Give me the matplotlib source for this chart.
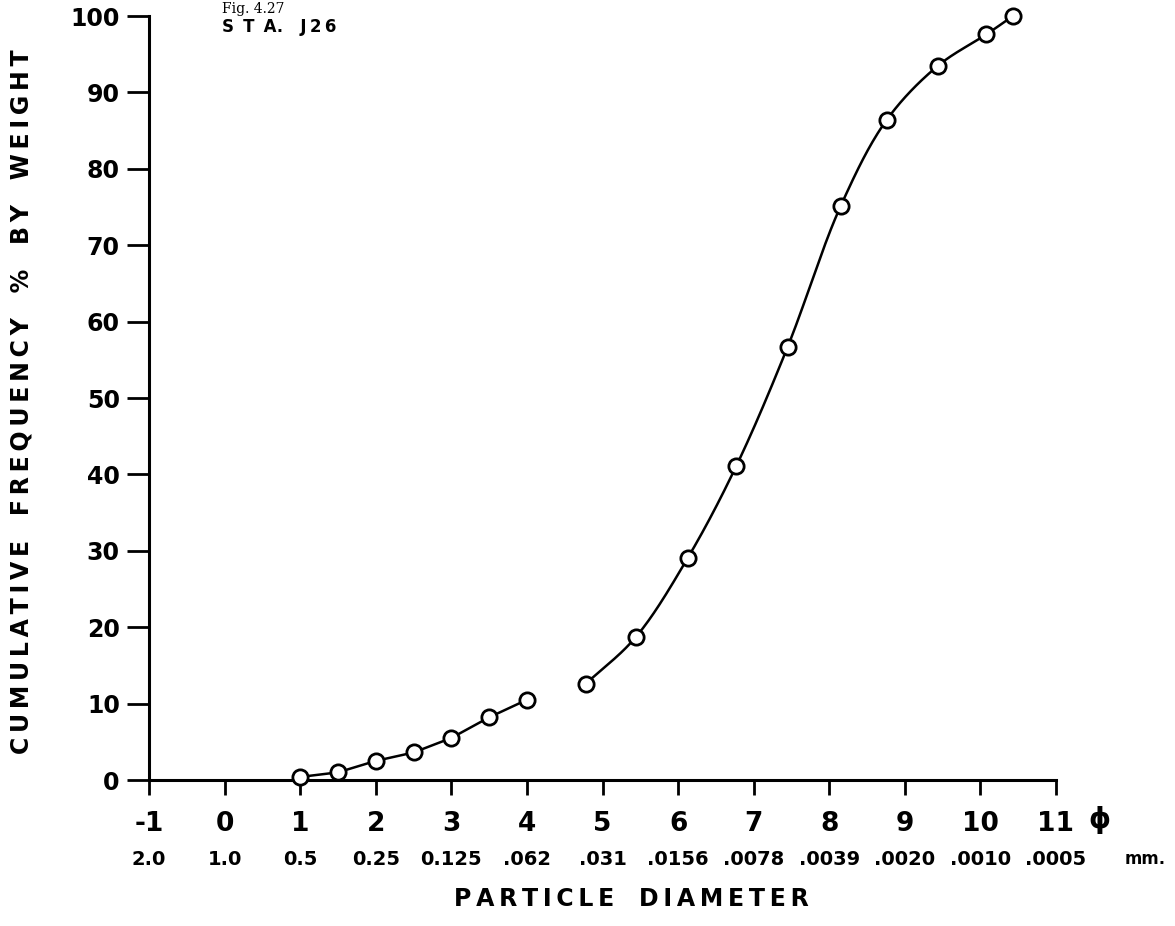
import numpy as np
import matplotlib.pyplot as plt

# sieve fractions (straight segments) and pipette fractions (smooth curve)
phi_sieve = [1.0, 1.5, 2.0, 2.5, 3.0, 3.5, 4.0]
pct_sieve = [0.4, 1.0, 2.5, 3.6, 5.5, 8.2, 10.5]
phi_pipette = [4.78, 5.44, 6.13, 6.77, 7.45, 8.15, 8.76, 9.44, 10.08, 10.43]
pct_pipette = [12.6, 18.7, 29.1, 41.1, 56.7, 75.1, 86.4, 93.5, 97.6, 100.0]

phi_ticks = list(range(-1, 12))
phi_labels = ["-1", "0", "1", "2", "3", "4", "5", "6", "7", "8", "9", "10", "11"]
mm_labels = ["2.0", "1.0", "0.5", "0.25", "0.125", ".062", ".031", ".0156",
             ".0078", ".0039", ".0020", ".0010", ".0005"]
y_ticks = list(range(0, 101, 10))

W, H = 1175, 926
FONT = "DejaVu Sans"
THIN = "\u2009"


def smooth(x, y, n=40):
    # centripetal Catmull-Rom through the points (y scaled to ~isotropic)
    p = np.column_stack([x, np.asarray(y) / 10.0])
    p = np.vstack([2 * p[0] - p[1], p, 2 * p[-1] - p[-2]])
    out = []
    for i in range(1, len(p) - 2):
        p0, p1, p2, p3 = p[i - 1:i + 3]
        t0 = 0.0
        t1 = t0 + np.linalg.norm(p1 - p0) ** 0.5
        t2 = t1 + np.linalg.norm(p2 - p1) ** 0.5
        t3 = t2 + np.linalg.norm(p3 - p2) ** 0.5
        t = np.linspace(t1, t2, n)[:, None]
        a1 = (t1 - t) / (t1 - t0) * p0 + (t - t0) / (t1 - t0) * p1
        a2 = (t2 - t) / (t2 - t1) * p1 + (t - t1) / (t2 - t1) * p2
        a3 = (t3 - t) / (t3 - t2) * p2 + (t - t2) / (t3 - t2) * p3
        b1 = (t2 - t) / (t2 - t0) * a1 + (t - t0) / (t2 - t0) * a2
        b2 = (t3 - t) / (t3 - t1) * a2 + (t - t1) / (t3 - t1) * a3
        out.append((t2 - t) / (t2 - t1) * b1 + (t - t1) / (t2 - t1) * b2)
    c = np.vstack(out)
    return c[:, 0], c[:, 1] * 10.0


def spaced(words, gap="   "):
    return gap.join(THIN.join(w) for w in words)


fig = plt.figure(figsize=(W / 100, H / 100), dpi=100)
ax = fig.add_axes([149 / W, 1 - 780 / H, 907 / W, 764 / H])

line_kw = dict(color="black", lw=1.8, clip_on=False, zorder=2)
mark_kw = dict(ls="none", marker="o", ms=11, mfc="white", mec="black",
               mew=2.0, clip_on=False, zorder=3)

ax.plot(phi_sieve, pct_sieve, **line_kw)
sx, sy = smooth(phi_pipette, pct_pipette)
ax.plot(sx, sy, **line_kw)
ax.plot(phi_sieve, pct_sieve, **mark_kw)
ax.plot(phi_pipette, pct_pipette, **mark_kw)

ax.set_xlim(-1, 11)
ax.set_ylim(0, 100)
for s in ["top", "right"]:
    ax.spines[s].set_visible(False)
for s in ["left", "bottom"]:
    ax.spines[s].set_linewidth(2.2)

ax.set_yticks(y_ticks)
ax.set_yticklabels([str(v) for v in y_ticks], fontsize=17,
                   fontweight="bold", family=FONT)
ax.tick_params(axis="y", direction="out", length=16, width=2, pad=5)

ax.set_xticks(phi_ticks)
ax.set_xticklabels(phi_labels, fontsize=19, fontweight="bold", family=FONT)
ax.tick_params(axis="x", direction="out", length=11, width=2, pad=11)

for x, lbl in zip(phi_ticks, mm_labels):
    ax.annotate(lbl, xy=(x, 0), xycoords=("data", "axes fraction"),
                xytext=(0, -57), textcoords="offset points",
                ha="center", va="center", fontsize=14, fontweight="bold",
                family=FONT, annotation_clip=False)

fig.text(1099 / W, 1 - 820 / H, "\u03d5", fontsize=20, fontweight="bold",
         ha="center", va="center", family=FONT)
fig.text(1145 / W, 1 - 859 / H, "mm.", fontsize=12, fontweight="bold",
         ha="center", va="center", family=FONT)

ylab = spaced(["CUMULATIVE", "FREQUENCY", "%", "BY", "WEIGHT"])
fig.text(22 / W, 1 - 402 / H, ylab, rotation=90, fontsize=17,
         fontweight="bold", ha="center", va="center", family=FONT)

xlab = spaced(["PARTICLE", "DIAMETER"])
fig.text(631 / W, 1 - 899 / H, xlab, fontsize=17, fontweight="bold",
         ha="center", va="center", family=FONT)

sta = (" " + THIN).join("STA.".replace(".", "")) + ".   " + THIN.join("J26")
fig.text(222 / W, 1 - 27.5 / H, sta, fontsize=12,
         fontweight="bold", ha="left", va="center", family=FONT)
fig.text(222 / W, 1 - 2 / H, "Fig. 4.27", fontsize=10, ha="left",
         va="top", family="DejaVu Serif")

fig.savefig("out.png", dpi=100)
